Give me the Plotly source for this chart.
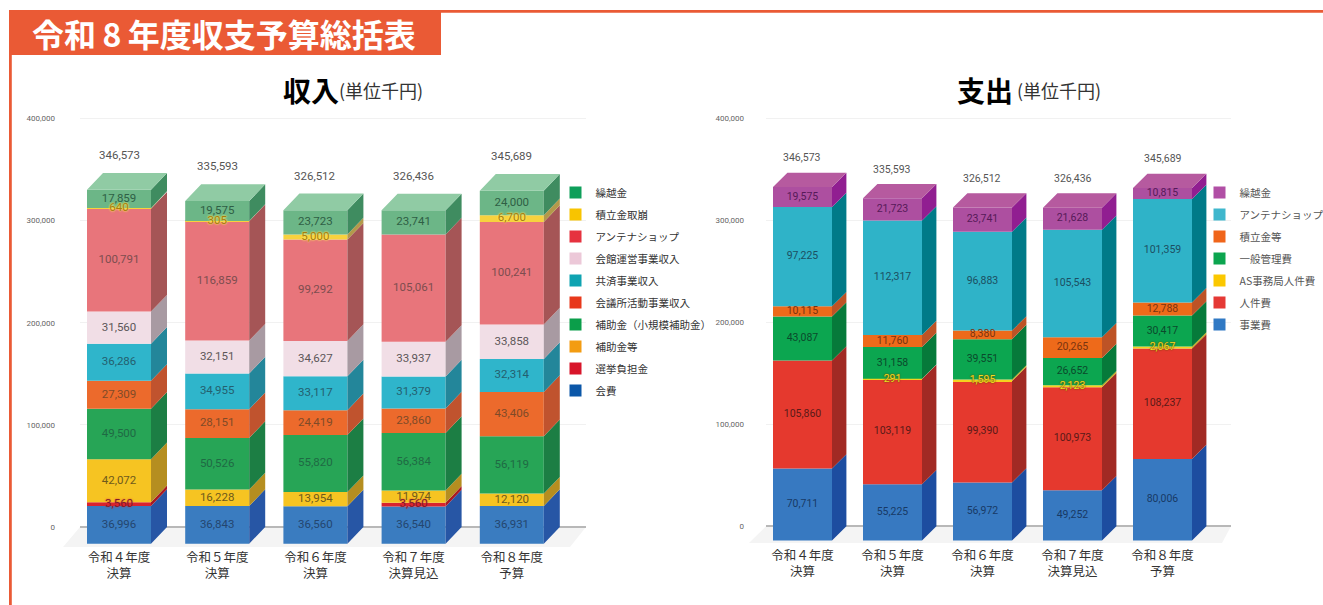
import plotly.graph_objects as go

W, H = 1323, 605
CJK = "Noto Sans CJK JP"
NUM = "Roboto"
ORANGE = "#ea5a35"

categories = ["令和４年度<br>決算", "令和５年度<br>決算", "令和６年度<br>決算", "令和７年度<br>決算見込", "令和８年度<br>予算"]
y_ticks = [0, 100000, 200000, 300000, 400000]
y_tick_labels = ["0", "100,000", "200,000", "300,000", "400,000"]

# 収入 (bottom to top of the stack)
in_kaihi = [36996, 36843, 36560, 36540, 36931]
in_senkyo = [3560, 0, 0, 3560, 0]
in_hojokinto = [42072, 16228, 13954, 11974, 12120]
in_shokibo = [49500, 50526, 55820, 56384, 56119]
in_kaigisho = [27309, 28151, 24419, 23860, 43406]
in_kyosai = [36286, 34955, 33117, 31379, 32314]
in_kaikan = [31560, 32151, 34627, 33937, 33858]
in_antenna = [100791, 116859, 99292, 105061, 100241]
in_tsumitate = [640, 305, 5000, 0, 6700]
in_kurikoshi = [17859, 19575, 23723, 23741, 24000]
in_totals = [346573, 335593, 326512, 326436, 345689]

# 支出 (bottom to top of the stack)
out_jigyo = [70711, 55225, 56972, 49252, 80006]
out_jinken = [105860, 103119, 99390, 100973, 108237]
out_as = [0, 291, 1595, 2123, 2067]
out_ippan = [43087, 31158, 39551, 26652, 30417]
out_tsumitate = [10115, 11760, 8380, 20265, 12788]
out_antenna = [97225, 112317, 96883, 105543, 101359]
out_kurikoshi = [19575, 21723, 23741, 21628, 10815]
out_totals = [346573, 335593, 326512, 326436, 345689]

# name, values, front, side, top, label colour, legend swatch, label glow
in_series = [
    ("会費", in_kaihi, "#3a7cc0", "#2756a5", "#3a7cc0", "#24466f", "#0b57a8", None),
    ("選挙負担金", in_senkyo, "#d9232e", "#a81a22", "#d9232e", "#7e1a2a", "#d8152a", "0 0 2px #e0303a"),
    ("補助金等", in_hojokinto, "#f6c422", "#b58e20", "#f6c422", "#6f5a1c", "#f39c12", None),
    ("補助金（小規模補助金）", in_shokibo, "#27a556", "#1c7e44", "#27a556", "#1f6a44", "#0b9e4a", None),
    ("会議所活動事業収入", in_kaigisho, "#ec6a2c", "#c0532e", "#ec6a2c", "#7f4a28", "#e8381b", None),
    ("共済事業収入", in_kyosai, "#2fb5cb", "#23869a", "#2fb5cb", "#24606f", "#0fa3b1", None),
    ("会館運営事業収入", in_kaikan, "#f1dee6", "#a89aa2", "#f1dee6", "#5c5658", "#ecc8d8", None),
    ("アンテナショップ", in_antenna, "#e8757b", "#a55556", "#e8757b", "#7d4d4f", "#e6323f", None),
    ("積立金取崩", in_tsumitate, "#f7d23e", "#b3994a", "#f7d23e", "#a67c0c", "#f8c400", "0 0 2px #ffe45c, 0 0 2px #ffe45c"),
    ("繰越金", in_kurikoshi, "#6cb687", "#3f8c60", "#90cba4", "#2f5f45", "#0e9f5a", None),
]
out_series = [
    ("事業費", out_jigyo, "#3779c1", "#1d4da0", "#3779c1", "#183a66", "#3079c4", None),
    ("人件費", out_jinken, "#e5392e", "#a12a24", "#e5392e", "#5a1a18", "#e53935", None),
    ("AS事務局人件費", out_as, "#f5d21e", "#c2a820", "#f5d21e", "#f2dc26", "#fbc800", "0 0 2px #6a4a00, 0 0 1px #6a4a00"),
    ("一般管理費", out_ippan, "#0ca650", "#067a3a", "#0ca650", "#0b4a2c", "#0ca54f", None),
    ("積立金等", out_tsumitate, "#ee6a1a", "#bd5326", "#ee6a1a", "#7a3410", "#f0651a", None),
    ("アンテナショップ", out_antenna, "#2fb3c8", "#007a88", "#2fb3c8", "#1c4f62", "#3fb7cd", None),
    ("繰越金", out_kurikoshi, "#ad4fa0", "#911e91", "#b65a9f", "#561a58", "#b14fa5", None),
]

fig = go.Figure()


def px(x):
    return x / W


def py(y):
    return 1 - y / H


def add_chart(series, totals, xa, ya, legend, c0, step, bar_w, dx_px, zero_y, top_y, depth_px,
              left, right, bottom, top, standoff_x, standoff_y, total_shift, total_size, label_size, tick_size):
    """c0..: pixel geometry of the chart, converted to axis units for the library's scales."""
    per_k = (zero_y - top_y) / 400000
    depth = depth_px / per_k
    dx = dx_px / step
    width = bar_w / step
    xpos = list(range(len(categories)))
    cum = [0] * len(xpos)
    xid = xa.replace("axis", "")
    yid = ya.replace("axis", "")
    labels = []
    for name, vals, front, side, topc, lab, swatch, glow in series:
        bases = [c - depth for c in cum]
        fig.add_trace(go.Bar(
            x=xpos, y=vals, base=bases, width=width, xaxis=xid, yaxis=yid, name=name,
            marker=dict(color=front, line=dict(width=0)), showlegend=False,
        ))
        sx, sy, lx, ly, lt = [], [], [], [], []
        for i, v in enumerate(vals):
            if v:
                xr = i + width / 2
                sx += [xr, xr + dx, xr + dx, xr, None]
                sy += [cum[i] - depth, cum[i], cum[i] + v, cum[i] + v - depth, None]
                lx.append(i)
                ly.append(cum[i] + v / 2 - depth)
                lt.append(f"{v:,}")
            cum[i] += v
        labels.append((lx, ly, lt, lab, glow))
        fig.add_trace(go.Scatter(x=sx, y=sy, xaxis=xid, yaxis=yid, mode="lines", fill="toself",
                                 fillcolor=side, line=dict(width=0), showlegend=False, hoverinfo="skip"))
    # top faces
    topc = series[-1][4]
    tx, ty = [], []
    for i, t in enumerate(cum):
        xl, xr = i - width / 2, i + width / 2
        tx += [xl, xr, xr + dx, xl + dx, None]
        ty += [t - depth, t - depth, t, t, None]
    fig.add_trace(go.Scatter(x=tx, y=ty, xaxis=xid, yaxis=yid, mode="lines", fill="toself",
                             fillcolor=topc, line=dict(width=0), showlegend=False, hoverinfo="skip"))
    # segment labels sit above every face, so thin segments keep their numbers
    for lx, ly, lt, lab, glow in labels:
        font = dict(family=NUM, size=label_size, color=lab)
        if glow:
            font["shadow"] = glow
        fig.add_trace(go.Scatter(x=lx, y=ly, xaxis=xid, yaxis=yid, mode="text", text=lt,
                                 textposition="middle center", textfont=font,
                                 showlegend=False, hoverinfo="skip"))
    # legend entries, top to bottom
    for name, vals, front, side, topc, lab, swatch, glow in reversed(series):
        fig.add_trace(go.Scatter(x=[None], y=[None], xaxis=xid, yaxis=yid, mode="markers", name=name,
                                 legend=legend, legendgroup=legend + name,
                                 marker=dict(symbol="square", size=12, color=swatch)))
    # totals
    for i, t in enumerate(totals):
        fig.add_annotation(x=i, y=t, xref=xid, yref=yid, text=f"{t:,}", showarrow=False,
                           yshift=total_shift, font=dict(family=NUM, size=total_size, color="#555555"))
    rng_x = [(left - c0) / step, (right - c0) / step]
    rng_y = [(zero_y - bottom) / per_k, (zero_y - top) / per_k]
    fig.update_layout({
        xa: dict(domain=[px(left), px(right)], range=rng_x, tickmode="array", tickvals=xpos,
                 ticktext=categories, showgrid=False, zeroline=False, showline=False, ticks="",
                 ticklabelstandoff=standoff_x, anchor=yid,
                 tickfont=dict(family=CJK, size=tick_size, color="#333333")),
        ya: dict(domain=[py(bottom), py(top)], range=rng_y, tickmode="array", tickvals=y_ticks,
                 ticktext=y_tick_labels, gridcolor="#f1f1f1", gridwidth=1, zeroline=True,
                 zerolinecolor="#b8b8b8", zerolinewidth=2, showline=False, ticks="",
                 ticklabelstandoff=standoff_y, anchor=xid,
                 tickfont=dict(family=NUM, size=8, color="#666666")),
    })


add_chart(in_series, in_totals, "xaxis", "yaxis", "legend", 119, 98.2, 64, 16, 527, 118.5, 16.7,
          80, 586, 546, 115, 2, 24, 18, 11.5, 11.5, 12.5)
add_chart(out_series, out_totals, "xaxis2", "yaxis2", "legend2", 802.5, 90, 59, 14.4, 526.3, 118.3, 14.3,
          766, 1231, 543, 115, 3, 21, 15, 10.5, 10.5, 12.5)

shapes = []


def rect(x0, y0, x1, y1, color):
    shapes.append(dict(type="rect", xref="paper", yref="paper", x0=px(x0), x1=px(x1), y0=py(y0), y1=py(y1),
                       fillcolor=color, line=dict(width=0), layer="below"))


def ground(xf0, xf1, xb0, xb1, yb, yf):
    path = (f"M {px(xb0)} {py(yb)} L {px(xb1)} {py(yb)} L {px(xf1)} {py(yf)} L {px(xf0)} {py(yf)} Z")
    shapes.append(dict(type="path", xref="paper", yref="paper", path=path, fillcolor="#f4f4f4",
                       line=dict(width=0), layer="below"))


rect(9, 10, W, 12.7, ORANGE)
rect(9, 10, 11.8, H, ORANGE)
rect(9, 10, 441, 55, ORANGE)
ground(63, 570, 80, 586, 527, 547)
ground(749, 1222, 766, 1231, 526.3, 543)


def text(x, y, s, size, color, weight=400, family=CJK):
    fig.add_annotation(x=px(x), y=py(y), xref="paper", yref="paper", text=s, showarrow=False,
                       xanchor="left", yanchor="middle", borderpad=0,
                       font=dict(family=family, size=size, color=color, weight=weight))


text(31, 33, "令和\u20098\u2009年度収支予算総括表", 32, "#ffffff", 700)
text(282, 90, "収入", 28, "#000000", 700)
text(338, 90, "(単位千円)", 18, "#333333")
text(956, 90, "支出", 28, "#000000", 700)
text(1016, 90, "(単位千円)", 18, "#333333")

fig.update_layout(
    width=W, height=H, autosize=False, margin=dict(l=0, r=0, t=0, b=0, autoexpand=False),
    paper_bgcolor="#ffffff", plot_bgcolor="rgba(0,0,0,0)", barmode="overlay", shapes=shapes,
    font=dict(family=CJK), hovermode="closest",
    legend=dict(x=px(555.5), y=py(178), xanchor="left", yanchor="top", traceorder="grouped", tracegroupgap=3,
                bgcolor="rgba(0,0,0,0)", font=dict(family=CJK, size=10.5, color="#333333")),
    legend2=dict(x=px(1199.5), y=py(178), xanchor="left", yanchor="top", traceorder="grouped", tracegroupgap=3,
                 bgcolor="rgba(0,0,0,0)", font=dict(family=CJK, size=10.5, color="#555555")),
)

fig.write_html("out.html", default_width="1323px", default_height="605px",
               config=dict(displayModeBar=False),
               post_script="document.body.style.margin='0';document.body.style.overflow='hidden';")
